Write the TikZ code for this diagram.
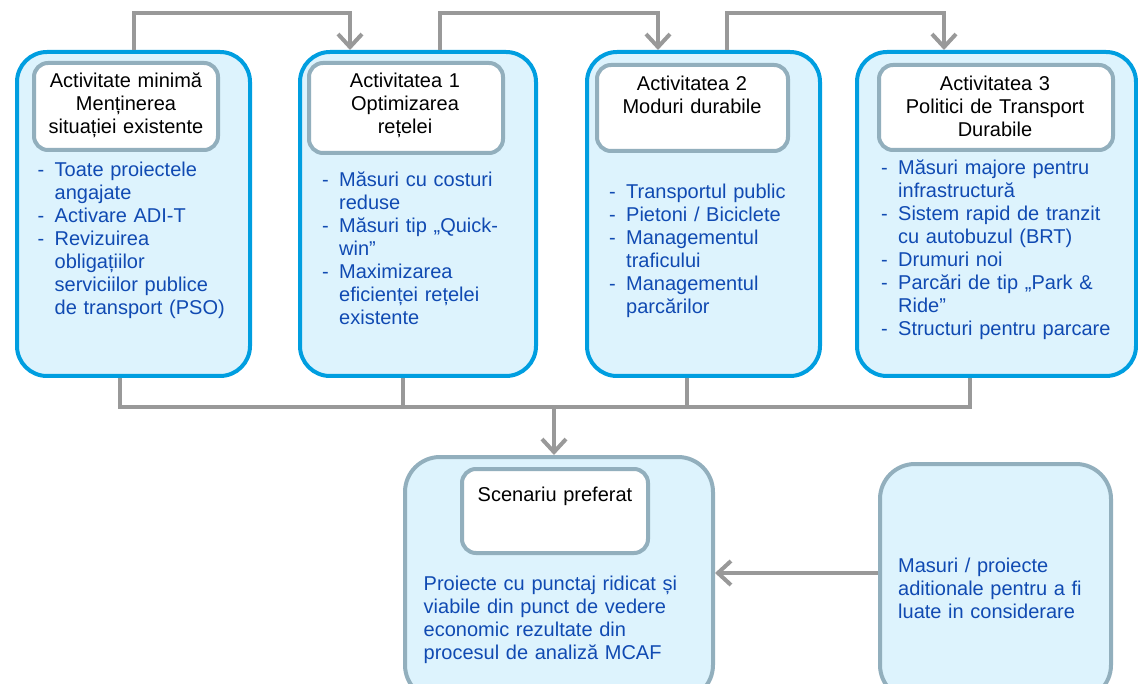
\documentclass[tikz,border=0pt]{standalone}
\usepackage{fontspec}
\setmainfont{Liberation Sans}
\usetikzlibrary{arrows.meta}

\definecolor{panelblue}{RGB}{0,158,224}
\definecolor{panelfill}{RGB}{221,243,253}
\definecolor{framegray}{RGB}{146,175,189}
\definecolor{linkgray}{RGB}{153,153,153}
\definecolor{itemblue}{RGB}{16,74,178}

% list helpers: a dash item and its continuation line
\newcommand\itemline[1]{\makebox[17pt][l]{-}#1}
\newcommand\contline[1]{\hspace*{17pt}#1}

\begin{document}
\begin{tikzpicture}[x=1pt,y=-1pt,
  panel/.style={draw=panelblue,line width=4pt,fill=panelfill,rounded corners=30pt,inner sep=0pt},
  greypanel/.style={draw=framegray,line width=4pt,fill=panelfill,rounded corners=35pt,inner sep=0pt},
  titlebox/.style={draw=framegray,line width=4pt,fill=white,rounded corners=14pt,inner sep=0pt},
  titletext/.style={font=\fontsize{20pt}{23pt}\selectfont,align=center,text width=240pt,anchor=base,inner sep=0pt,text=black},
  listtext/.style={font=\fontsize{20pt}{23pt}\selectfont,text=itemblue,align=left,anchor=base west,inner sep=0pt,text width=#1},
  link/.style={draw=linkgray,line width=4pt},
  linkarrow/.style={link,-{Straight Barb[length=13pt,width=24pt]}}
]
\path[use as bounding box] (0,0) rectangle (1138,684);
\clip (0,0) rectangle (1138,684);

% activity panels
\node[panel,minimum width=233pt,minimum height=324pt] (b1) at (133.5,214) {};
\node[panel,minimum width=236pt,minimum height=324pt] (b2) at (418,214) {};
\node[panel,minimum width=233pt,minimum height=324pt] (b3) at (703.5,214) {};
\node[panel,minimum width=279pt,minimum height=324pt] (b4) at (996.5,214) {};

% lower panels
\node[greypanel,minimum width=308pt,minimum height=243pt] (b5) at (559,578.5) {};
\node[greypanel,minimum width=231pt,minimum height=236pt] (b6) at (995.5,582) {};

% title boxes
\node[titlebox,minimum width=184pt,minimum height=87pt] (t1) at (126,106.5) {};
\node[titlebox,minimum width=194pt,minimum height=90pt] (t2) at (406,108) {};
\node[titlebox,minimum width=191pt,minimum height=86pt] (t3) at (692.5,108) {};
\node[titlebox,minimum width=234pt,minimum height=85pt] (t4) at (996,107.5) {};
\node[titlebox,minimum width=186pt,minimum height=84pt] (t5) at (555,511) {};

% titles
\node[titletext] (h1) at (126,88) {Activitate minimă\\Menținerea\\situației existente};
\node[titletext] (h2) at (405,88) {Activitatea 1\\Optimizarea\\rețelei};
\node[titletext] (h3) at (692,91) {Activitatea 2\\Moduri durabile};
\node[titletext] (h4) at (995,91) {Activitatea 3\\Politici de Transport\\Durabile};
\node[titletext] (h5) at (555,501) {Scenariu preferat};

% measure lists
\node[listtext=210pt] (l1) at (37.5,177) {\itemline{Toate proiectele}\\\contline{angajate}\\\itemline{Activare ADI-T}\\\itemline{Revizuirea}\\\contline{obligațiilor}\\\contline{serviciilor publice}\\\contline{de transport (PSO)}};
\node[listtext=210pt] (l2) at (322,187) {\itemline{Măsuri cu costuri}\\\contline{reduse}\\\itemline{Măsuri tip „Quick-}\\\contline{win”}\\\itemline{Maximizarea}\\\contline{eficienței rețelei}\\\contline{existente}};
\node[listtext=210pt] (l3) at (609,199) {\itemline{Transportul public}\\\itemline{Pietoni / Biciclete}\\\itemline{Managementul}\\\contline{traficului}\\\itemline{Managementul}\\\contline{parcărilor}};
\node[listtext=250pt] (l4) at (881,175) {\itemline{Măsuri majore pentru}\\\contline{infrastructură}\\\itemline{Sistem rapid de tranzit}\\\contline{cu autobuzul (BRT)}\\\itemline{Drumuri noi}\\\itemline{Parcări de tip „Park \&}\\\contline{Ride”}\\\itemline{Structuri pentru parcare}};
\node[listtext=280pt] (l5) at (423.5,590) {Proiecte cu punctaj ridicat și\\viabile din punct de vedere\\economic rezultate din\\procesul de analiză MCAF};
\node[listtext=210pt] (l6) at (898,572) {Masuri / proiecte\\aditionale pentru a fi\\luate in considerare};

% sequence along the top
\draw[linkarrow] (b1.north) -- ++(0,-37) -| ([xshift=-68pt]b2.north);
\draw[linkarrow] ([xshift=22pt]b2.north) -- ++(0,-37) -| ([xshift=-45.5pt]b3.north);
\draw[linkarrow] ([xshift=23.5pt]b3.north) -- ++(0,-37) -| ([xshift=-52.5pt]b4.north);

% collector below the panels
\coordinate (s1) at ([xshift=-13.5pt]b1.south);
\coordinate (s2) at ([xshift=-15pt]b2.south);
\coordinate (s3) at ([xshift=-16.5pt]b3.south);
\coordinate (s4) at ([xshift=-26.5pt]b4.south);
\coordinate (s5) at ([xshift=-5pt]b5.north);
\coordinate (rail) at (0,407);
\draw[link] (s1) |- (s4 |- rail) -- (s4);
\draw[link] (s2) -- (s2 |- rail);
\draw[link] (s3) -- (s3 |- rail);
\draw[linkarrow] (s5 |- rail) -- (s5);

% additional measures feed the preferred scenario
\coordinate (mid) at (0,573);
\draw[linkarrow] (b6.west |- mid) -- (b5.east |- mid);
\end{tikzpicture}
\end{document}
